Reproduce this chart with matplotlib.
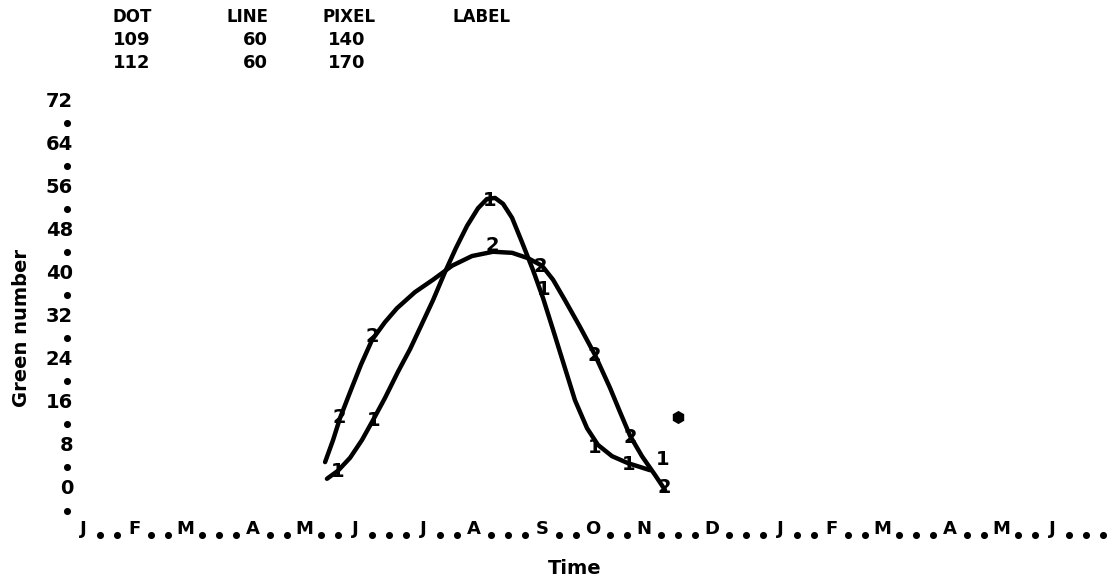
import matplotlib
matplotlib.use("Agg")
import matplotlib.pyplot as plt

# ---- values ----
header_cols = ["DOT", "LINE", "PIXEL", "LABEL"]
header_rows = [["109", "60", "140"],
               ["112", "60", "170"]]

y_ticks = [0, 8, 16, 24, 32, 40, 48, 56, 64, 72]
y_dots = [-4, 4, 12, 20, 28, 36, 44, 52, 60, 68]

# printer time axis, one column per character
time_axis = "J..F..M...A..M..J...J..A...S..O..N...D...J..F..M...A..M..J..."

# curve 1 (column index, green number)
c1_x = [14.35, 15.0, 15.71, 16.41, 17.06, 17.76, 18.53, 19.24, 19.82, 20.59,
        21.29, 21.94, 22.59, 23.24, 23.76, 24.24, 24.71, 25.24, 25.82, 26.47,
        27.06, 27.65, 28.24, 28.94, 29.65, 30.29, 31.12, 32.06, 32.76, 33.35]
c1_y = [1.9, 3.4, 5.8, 9.1, 12.8, 16.9, 21.8, 26.0, 29.9, 35.1,
        40.3, 44.8, 48.9, 52.2, 53.9, 54.1, 53.0, 50.4, 45.9, 40.7,
        35.5, 29.6, 23.6, 16.5, 11.3, 8.2, 6.1, 4.8, 4.1, 3.5]

# curve 2
c2_x = [14.24, 14.71, 15.12, 15.71, 16.35, 17.0, 17.76, 18.47, 19.53, 20.59,
        21.71, 22.88, 24.12, 25.24, 26.18, 27.0, 27.65, 28.35, 29.24, 30.12,
        31.0, 31.59, 32.18, 32.88, 33.65, 34.24]
c2_y = [5.0, 9.1, 13.2, 18.0, 23.1, 27.7, 31.0, 33.6, 36.6, 38.9,
        41.5, 43.3, 44.1, 43.9, 42.9, 41.5, 38.9, 35.1, 30.1, 24.9,
        18.8, 14.3, 9.9, 6.1, 2.6, -0.2]

# printed point symbols
p1_x = [15.0, 17.1, 23.9, 27.1, 30.1, 32.1, 34.1]
p1_y = [3.3, 12.8, 53.7, 37.0, 7.8, 4.5, 5.4]
p2_x = [15.1, 17.0, 24.1, 26.9, 30.1, 32.2, 34.2]
p2_y = [13.2, 28.3, 45.2, 41.4, 24.9, 9.5, 0.2]

star_x = [35.0]
star_y = [13.4]

W, H = 1111, 588
FONT = dict(family="DejaVu Sans", fontweight="bold")

fig = plt.figure(figsize=(W / 100, H / 100), dpi=100)
ax = fig.add_axes([0, 0, 1, 1])
ax.axis("off")
# one printer column = 17 px, one green unit = 5.38 px
ax.set_xlim(-83 / 17, (W - 83) / 17)
ax.set_ylim((489 - H) / 5.38, 489 / 5.38)


def px(x, y):
    return x / W, 1 - y / H


# header block
hx = [(112, "left"), (268, "right"), (322, "left"), (453, "left")]
for (x, ha), name in zip(hx, header_cols):
    fig.text(*px(x, 17), name, ha=ha, va="center", fontsize=12, **FONT)
num_x = [(113, "left"), (268, "right"), (328, "left")]
for r, row in enumerate(header_rows):
    for (x, ha), val in zip(num_x, row):
        fig.text(*px(x, 40 + 23 * r), val, ha=ha, va="center", fontsize=13, **FONT)

# y axis
ycol = (73 - 83) / 17
for v in y_ticks:
    ax.text(ycol, v, str(v), ha="right", va="center", fontsize=14, **FONT)
ax.scatter([(67 - 83) / 17] * len(y_dots), y_dots, s=26, color="black", lw=0)

# x axis
row_v = (489 - 529) / 5.38
dot_v = (489 - 535) / 5.38
dot_cols = []
for k, ch in enumerate(time_axis):
    if ch == ".":
        dot_cols.append(k)
    else:
        ax.text(k, row_v, ch, ha="center", va="center", fontsize=13, **FONT)
ax.scatter(dot_cols, [dot_v] * len(dot_cols), s=26, color="black", lw=0)

# curves
ax.plot(c1_x, c1_y, color="black", lw=3.2, solid_capstyle="round")
ax.plot(c2_x, c2_y, color="black", lw=3.2, solid_capstyle="round")
for x, y in zip(p1_x, p1_y):
    ax.text(x, y, "1", ha="center", va="center", fontsize=14, **FONT)
for x, y in zip(p2_x, p2_y):
    ax.text(x, y, "2", ha="center", va="center", fontsize=14, **FONT)
ax.scatter(star_x, star_y, s=90, marker="h", color="black", lw=0)

# axis titles
fig.text(*px(22, 328), "Green number", rotation=90, ha="center", va="center",
         fontsize=14, **FONT)
fig.text(*px(575, 568), "Time", ha="center", va="center", fontsize=14, **FONT)

fig.savefig("out.png", dpi=100, facecolor="white")
